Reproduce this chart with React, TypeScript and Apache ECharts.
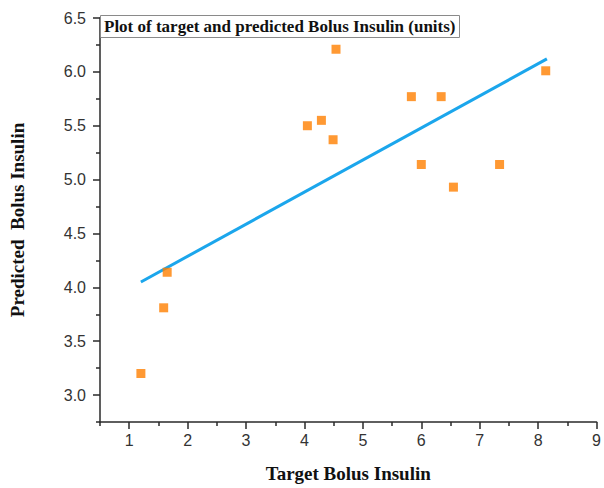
import React, { useEffect, useRef } from "react";
import * as echarts from "echarts";

const targetValues = [1.2, 1.59, 1.65, 4.05, 4.29, 4.49, 4.54, 5.83, 6.0, 6.34, 6.55, 7.34, 8.13];
const predictedValues = [3.2, 3.81, 4.14, 5.5, 5.55, 5.37, 6.21, 5.77, 5.14, 5.77, 4.93, 5.14, 6.01];
const fitLineX = [1.2, 8.15];
const fitLineY = [4.05, 6.12];
const xTickLabels = [1, 2, 3, 4, 5, 6, 7, 8, 9];
const xMinorTicks = [0.5, 1.5, 2.5, 3.5, 4.5, 5.5, 6.5, 7.5, 8.5];
const yTickLabels = [3.0, 3.5, 4.0, 4.5, 5.0, 5.5, 6.0, 6.5];
const yMinorTicks = [2.75, 3.25, 3.75, 4.25, 4.75, 5.25, 5.75, 6.25];

const serif = "'Liberation Serif', 'Times New Roman', serif";
const sans = "'Liberation Sans', Arial, sans-serif";
const axisColor = "#2a2a2a";

export default function App() {
  const ref = useRef<HTMLDivElement>(null);
  useEffect(() => {
    if (!ref.current) return;
    const chart = echarts.init(ref.current, null, { renderer: "svg" });
    const scatterData = targetValues.map((x, i) => [x, predictedValues[i]]);
    const lineData = fitLineX.map((x, i) => [x, fitLineY[i]]);
    chart.setOption({
      animation: false,
      backgroundColor: "#ffffff",
      title: {
        text: "Plot of target and predicted Bolus Insulin (units)",
        left: 100,
        top: 15,
        padding: [3, 4, 3, 4],
        borderColor: "#8a8a8a",
        borderWidth: 1,
        textStyle: { fontFamily: serif, fontWeight: "bold", fontSize: 17, color: "#111" },
      },
      grid: { left: 93, top: 18, right: 5, bottom: 62, containLabel: false },
      xAxis: [
        {
          type: "value",
          min: 0.5,
          max: 9,
          name: "Target Bolus Insulin",
          nameLocation: "middle",
          nameGap: 42,
          nameTextStyle: { fontFamily: serif, fontWeight: "bold", fontSize: 19, color: "#111" },
          axisLine: { show: true, lineStyle: { color: axisColor, width: 1.5 } },
          axisTick: { show: true, length: 7, customValues: xTickLabels, lineStyle: { color: axisColor, width: 1.5 } },
          axisLabel: { customValues: xTickLabels, margin: 10, fontFamily: sans, fontSize: 16, color: "#333" },
          splitLine: { show: false },
        },
        {
          type: "value",
          min: 0.5,
          max: 9,
          position: "bottom",
          axisLine: { show: false },
          axisTick: { show: true, length: 4, customValues: xMinorTicks, lineStyle: { color: axisColor, width: 1.5 } },
          axisLabel: { show: false },
          splitLine: { show: false },
        },
      ],
      yAxis: [
        {
          type: "value",
          min: 2.75,
          max: 6.5,
          name: "Predicted  Bolus Insulin",
          nameLocation: "middle",
          nameGap: 73,
          nameTextStyle: { fontFamily: serif, fontWeight: "bold", fontSize: 19, color: "#111" },
          axisLine: { show: true, lineStyle: { color: axisColor, width: 1.5 } },
          axisTick: { show: true, length: 7, customValues: yTickLabels, lineStyle: { color: axisColor, width: 1.5 } },
          axisLabel: {
            customValues: yTickLabels,
            margin: 14,
            fontFamily: sans,
            fontSize: 16,
            color: "#333",
            formatter: (v: number) => v.toFixed(1),
          },
          splitLine: { show: false },
        },
        {
          type: "value",
          min: 2.75,
          max: 6.5,
          position: "left",
          axisLine: { show: false },
          axisTick: { show: true, length: 4, customValues: yMinorTicks, lineStyle: { color: axisColor, width: 1.5 } },
          axisLabel: { show: false },
          splitLine: { show: false },
        },
      ],
      series: [
        {
          type: "line",
          data: lineData,
          showSymbol: false,
          symbol: "none",
          lineStyle: { color: "#1ba6ec", width: 3 },
          z: 2,
        },
        {
          type: "scatter",
          data: scatterData,
          symbol: "rect",
          symbolSize: 9,
          itemStyle: { color: "#ff8000" },
          z: 3,
        },
      ],
    });
    return () => chart.dispose();
  }, []);
  return (
    <div
      ref={ref}
      style={{ position: "absolute", left: 0, top: 0, width: 604, height: 488 }}
    />
  );
}
